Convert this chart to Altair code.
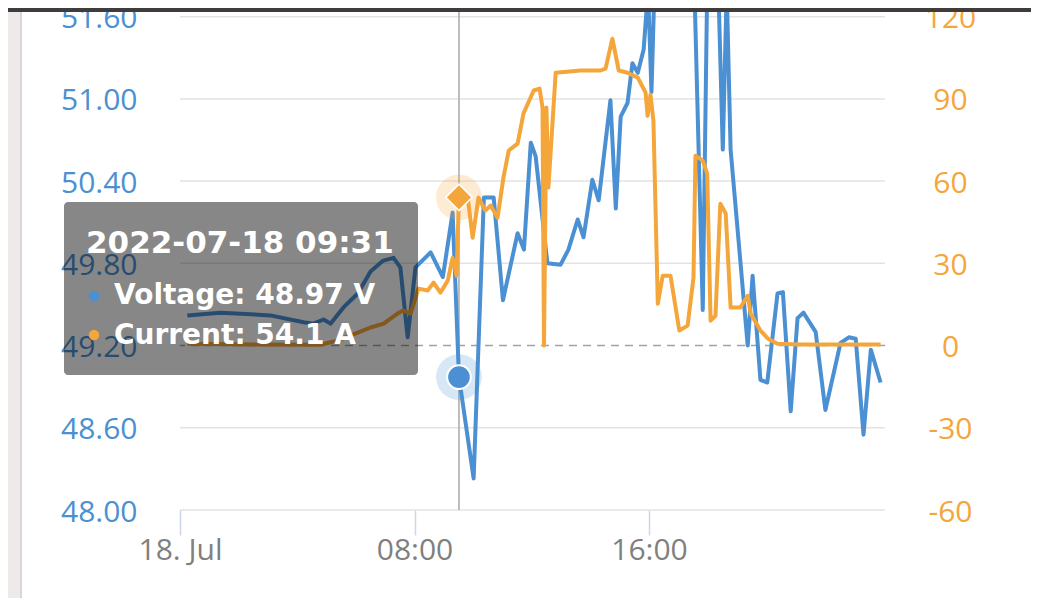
import altair as alt
import pandas as pd

DAY = "2022-07-18"

# ---- Voltage series (V) ----
volt_times = ["00:15","01:23","03:05","04:13","04:33","04:54","05:08","05:35","06:04","06:30",
              "06:56","07:17","07:31","07:46","08:02","08:33","08:58","09:18","09:31","10:01",
              "10:22","10:42","11:01","11:31","11:44","11:58","12:08","12:32","12:59","13:15",
              "13:34","13:46","14:04","14:17","14:41","14:52","15:02","15:16","15:26","15:37",
              "15:49","15:58","16:05","16:11","16:54","17:33","17:50","17:59","18:22","18:31",
              "18:39","18:47","19:22","19:32","19:48","20:02","20:23","20:34","20:50","21:04",
              "21:16","21:41","22:01","22:32","22:49","23:03","23:19","23:34","23:54"]
volt_values = [49.42,49.44,49.42,49.37,49.36,49.39,49.36,49.48,49.58,49.74,
               49.82,49.84,49.77,49.26,49.77,49.88,49.70,50.17,48.97,48.23,
               50.28,50.28,49.53,50.02,49.90,50.68,50.58,49.80,49.79,49.90,
               50.12,49.99,50.41,50.26,50.99,50.20,50.87,50.97,51.26,51.19,
               51.36,51.80,51.05,51.80,52.60,51.80,49.46,51.80,51.80,50.63,
               51.80,50.63,49.20,49.71,48.95,48.93,49.58,49.59,48.72,49.40,
               49.44,49.30,48.73,49.22,49.26,49.25,48.55,49.17,48.93]

# ---- Current series (A) ----
curr_times = ["00:15","02:24","04:47","05:22","06:04","06:30","06:57","07:25","07:37","07:52",
              "08:08","08:27","08:39","08:53","09:08","09:18","09:26","09:31","09:49","09:59",
              "10:11","10:25","10:36","10:50","11:02","11:13","11:31","11:43","12:04","12:16",
              "12:22","12:25","12:30","12:34","12:49","13:40","14:21","14:31","14:45","14:58",
              "15:16","15:37","15:53","15:57","16:03","16:09","16:18","16:28","16:44","17:02",
              "17:19","17:31","17:35","17:50","17:59","18:06","18:16","18:26","18:37","18:47",
              "19:07","19:22","19:28","19:48","20:03","20:23","21:10","23:54"]
curr_values = [0.7,0.4,0.3,1.8,4.7,6.6,8.0,11.7,12.8,11.7,
               20.8,20.1,23.0,19.3,23.7,32.0,25.5,54.1,54.0,39.4,
               54.0,49.3,51.1,46.7,61.3,71.2,73.7,84.7,93.1,93.8,
               86.9,0.0,86.9,57.7,99.6,100.4,100.4,101.1,112.0,100.4,
               99.6,97.8,92.3,83.9,91.6,82.1,15.3,25.5,25.5,5.5,
               7.3,24.8,69.3,67.5,62.8,9.1,10.9,51.8,48.2,13.9,
               13.9,18.2,11.7,5.5,2.6,0.7,0.4,0.4]

# ---- Axis ticks ----
volt_ticks = [48.00, 48.60, 49.20, 49.80, 50.40, 51.00, 51.60]
curr_ticks = [-60, -30, 0, 30, 60, 90, 120]
x_tick_hours = [0, 8, 16]

# ---- Hovered point / tooltip ----
hover_time = "09:31"
hover_voltage = 48.97
hover_current = 54.1
tooltip_header = "2022-07-18 09:31"
tooltip_lines = ["Voltage: 48.97 V", "Current: 54.1 A"]

BLUE = "#4a90d2"
ORANGE = "#f5a63a"
FONT = "Open Sans"
TIP_FONT = "DejaVu Sans"

volt_df = pd.DataFrame({"t": [f"{DAY}T{t}" for t in volt_times], "v": volt_values})
curr_df = pd.DataFrame({"t": [f"{DAY}T{t}" for t in curr_times], "a": curr_values})
hover_df = pd.DataFrame({"t": [f"{DAY}T{hover_time}"], "v": [hover_voltage], "a": [hover_current]})
grid_df = pd.DataFrame({"v": [v for v in volt_ticks if abs(v - 49.20) > 1e-9]})
zero_df = pd.DataFrame({"a": [0]})
one = pd.DataFrame({"k": [0]})

x_dom = [alt.DateTime(year=2022, month=7, date=18, hours=0, minutes=0),
         alt.DateTime(year=2022, month=7, date=19, hours=0, minutes=3)]
x_scale = alt.Scale(domain=x_dom)
x_vals = [alt.DateTime(year=2022, month=7, date=18, hours=h) for h in x_tick_hours]

x_axis = alt.Axis(values=x_vals, labelExpr="hours(datum.value) == 0 ? '18. Jul' : timeFormat(datum.value, '%H:%M')",
                  grid=False, domain=False, ticks=True, tickSize=25, tickColor="#ccd6eb", tickWidth=1.5,
                  labelColor="#808080", labelFontSize=30, labelFont=FONT, labelPadding=0,
                  labelFlush=False, labelOverlap=False, title=None)


def X():
    return alt.X("t:T", scale=x_scale, axis=x_axis)


v_scale = alt.Scale(domain=[48.0, 51.634], nice=False, zero=False)
a_scale = alt.Scale(domain=[-60, 121.75], nice=False, zero=False)

v_axis = alt.Axis(values=volt_ticks, format=".2f", orient="left", grid=False, domain=False, ticks=False,
                  labelColor=BLUE, labelFontSize=30, labelFont=FONT, labelPadding=43, title=None,
                  labelOverlap=False, labelOffset=2)
a_axis = alt.Axis(values=curr_ticks, labelExpr="'' + datum.value", orient="right", grid=False, domain=False,
                  ticks=False, labelColor=ORANGE, labelFontSize=30, labelFont=FONT, labelPadding=65,
                  labelAlign="center", title=None, labelOverlap=False, labelOffset=2)

# page decoration: grey strip at left with card border, dark bar on top
strip = alt.Chart(one).mark_rect(fill="#eeeaea").encode(
    x=alt.value(-200), x2=alt.value(-160), y=alt.value(-10), y2=alt.value(600))
border = alt.Chart(one).mark_rule(color="#d9d5d5", strokeWidth=2).encode(
    x=alt.value(-159), y=alt.value(-10), y2=alt.value(600))

grid = alt.Chart(grid_df).mark_rule(color="#e3e3e3", strokeWidth=1.5).encode(
    y=alt.Y("v:Q", scale=v_scale, axis=None))

zero = alt.Chart(zero_df).mark_rule(color="#a3a3a3", strokeWidth=1.5, strokeDash=[8, 6]).encode(
    y=alt.Y("a:Q", scale=a_scale, axis=None))

cross = alt.Chart(hover_df).mark_rule(color="#a8a8a8", strokeWidth=1.5).encode(x=X())

vline = alt.Chart(volt_df).mark_line(color=BLUE, strokeWidth=4, clip=True, strokeJoin="round").encode(
    x=X(), y=alt.Y("v:Q", scale=v_scale, axis=v_axis))

aline = alt.Chart(curr_df).mark_line(color=ORANGE, strokeWidth=4, clip=True, strokeJoin="round").encode(
    x=X(), y=alt.Y("a:Q", scale=a_scale, axis=a_axis))

v_halo = alt.Chart(hover_df).mark_point(filled=True, shape="circle", size=2100, color=BLUE, opacity=0.22).encode(
    x=X(), y=alt.Y("v:Q", scale=v_scale, axis=None))
v_dot = alt.Chart(hover_df).mark_point(filled=True, shape="circle", size=560, fill=BLUE, stroke="white",
                                        strokeWidth=2, opacity=1).encode(
    x=X(), y=alt.Y("v:Q", scale=v_scale, axis=None))
a_halo = alt.Chart(hover_df).mark_point(filled=True, shape="circle", size=2100, color=ORANGE, opacity=0.22).encode(
    x=X(), y=alt.Y("a:Q", scale=a_scale, axis=None))
a_dot = alt.Chart(hover_df).mark_point(filled=True, shape="diamond", size=700, fill=ORANGE, stroke="white",
                                        strokeWidth=1.5, opacity=1).encode(
    x=X(), y=alt.Y("a:Q", scale=a_scale, axis=None))

tip_box = alt.Chart(one).mark_rect(fill="black", opacity=0.47, cornerRadius=4).encode(
    x=alt.value(-116), x2=alt.value(238), y=alt.value(190), y2=alt.value(363))
tip_head = alt.Chart(one).mark_text(align="left", baseline="middle", font=TIP_FONT, fontSize=31,
                                    fontWeight="bold", color="white").encode(
    x=alt.value(-94), y=alt.value(232), text=alt.value(tooltip_header))
tip_l1 = alt.Chart(one).mark_text(align="left", baseline="middle", font=TIP_FONT, fontSize=28,
                                  fontWeight="bold", color="white").encode(
    x=alt.value(-66), y=alt.value(284), text=alt.value(tooltip_lines[0]))
tip_l2 = alt.Chart(one).mark_text(align="left", baseline="middle", font=TIP_FONT, fontSize=28,
                                  fontWeight="bold", color="white").encode(
    x=alt.value(-66), y=alt.value(324), text=alt.value(tooltip_lines[1]))
bul1 = alt.Chart(one).mark_point(filled=True, shape="circle", size=110, color=BLUE, opacity=1).encode(
    x=alt.value(-86), y=alt.value(284))
bul2 = alt.Chart(one).mark_point(filled=True, shape="circle", size=110, color=ORANGE, opacity=1).encode(
    x=alt.value(-86), y=alt.value(323))

top_bar = alt.Chart(one).mark_rect(fill="#403c3b").encode(
    x=alt.value(-200), x2=alt.value(900), y=alt.value(-20), y2=alt.value(0))

chart = alt.layer(
    strip, border, grid, zero, cross, vline, aline, v_halo, a_halo, v_dot, a_dot,
    tip_box, tip_head, tip_l1, tip_l2, bul1, bul2, top_bar
).resolve_scale(y="independent").properties(
    width=705, height=498,
    padding={"left": 172, "top": 4, "right": 146, "bottom": 88},
    autosize=alt.AutoSizeParams(type="none"),
    background="white",
).configure_view(stroke=None)

chart.save("out.html", embed_options={"renderer": "svg", "actions": False})
